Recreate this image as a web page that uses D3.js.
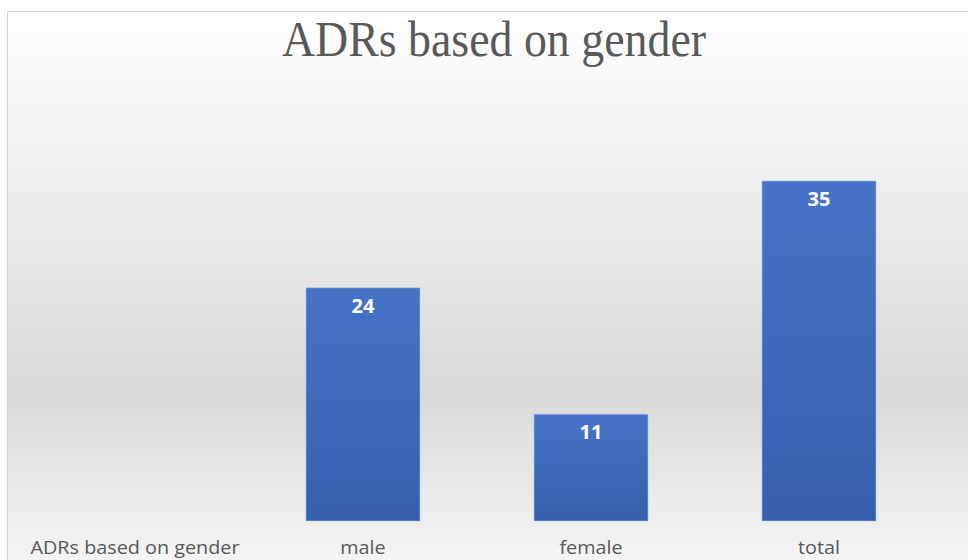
<!DOCTYPE html>
<html><head><meta charset="utf-8">
<script src="https://cdn.jsdelivr.net/npm/d3@7"></script>
<style>html,body{margin:0;padding:0;background:#fff;overflow:hidden}</style>
</head><body>
<script>
const categories = ["ADRs based on gender", "male", "female", "total"];
const values = [null, 24, 11, 35];
const title = "ADRs based on gender";

const W = 968, H = 560;
const svg = d3.select("body").append("svg").attr("width", W).attr("height", H);
const defs = svg.append("defs");
const bg = defs.append("linearGradient").attr("id","bg").attr("x1",0).attr("y1",0).attr("x2",0).attr("y2",1);
bg.append("stop").attr("offset","0%").attr("stop-color","#ffffff");
bg.append("stop").attr("offset","68%").attr("stop-color","#d9d9d9");
bg.append("stop").attr("offset","100%").attr("stop-color","#f6f6f6");
const bar = defs.append("linearGradient").attr("id","bar").attr("x1",0).attr("y1",0).attr("x2",0).attr("y2",1);
bar.append("stop").attr("offset","0%").attr("stop-color","#4673c6");
bar.append("stop").attr("offset","100%").attr("stop-color","#3660ad");

svg.append("rect").attr("x",7.5).attr("y",11.5).attr("width",W).attr("height",H)
  .attr("fill","url(#bg)").attr("stroke","#d0d0d0").attr("stroke-width",1);

const x = d3.scaleBand().domain(categories).range([21, 933]).paddingInner(0.5).paddingOuter(0.25);
const y = d3.scaleLinear().domain([0, 35]).range([521, 181]);

const data = categories.map((c,i)=>({c, v: values[i]}));

svg.append("text").attr("x", 494).attr("y", 56).attr("text-anchor","middle")
  .attr("font-family","Liberation Serif, serif").attr("font-size",50).attr("fill","#595959")
  .attr("textLength", 424).attr("lengthAdjust","spacingAndGlyphs").text(title);

const bars = data.filter(d=>d.v!=null);
svg.selectAll("rect.bar").data(bars).enter().append("rect").attr("class","bar")
  .attr("x", d=>x(d.c)).attr("width", x.bandwidth())
  .attr("y", d=>y(d.v)).attr("height", d=>y(0)-y(d.v))
  .attr("fill","url(#bar)").attr("stroke","#a9c1ea").attr("stroke-width",0.6);

svg.selectAll("text.lab").data(bars).enter().append("text").attr("class","lab")
  .attr("x", d=>x(d.c)+x.bandwidth()/2).attr("y", d=>y(d.v)+25)
  .attr("text-anchor","middle").attr("font-family","Open Sans, sans-serif")
  .attr("font-weight","bold").attr("font-size",20).attr("fill","#fff").text(d=>d.v);

const ax = svg.append("g").attr("transform","translate(0,521)")
  .call(d3.axisBottom(x).tickSize(0).tickPadding(0));
ax.select(".domain").remove();
const labs = ax.selectAll("text").attr("y", 33).attr("dy", 0).attr("font-family","Open Sans, sans-serif")
  .attr("font-size",19).attr("fill","#595959");
const first = labs.nodes()[0].getComputedTextLength();
const k = 209 / first;
labs.each(function(){ const L = this.getComputedTextLength();
  d3.select(this).attr("textLength", L*k).attr("lengthAdjust","spacingAndGlyphs"); });
</script>
</body></html>
